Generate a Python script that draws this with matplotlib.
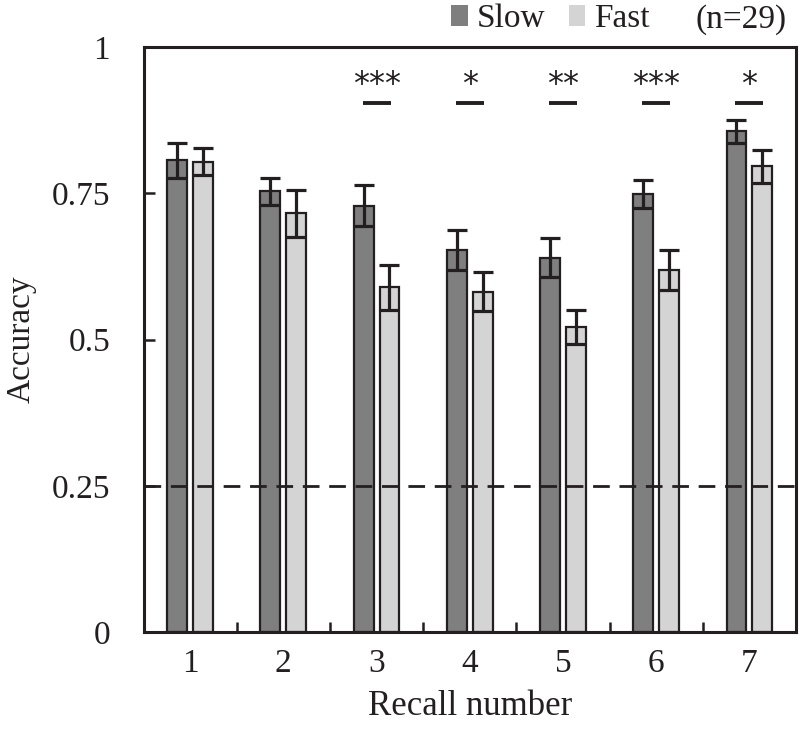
import matplotlib
matplotlib.use("Agg")
import matplotlib.pyplot as plt
from matplotlib.patches import Patch
import numpy as np

recall = [1, 2, 3, 4, 5, 6, 7]
slow_mean = [0.806, 0.753, 0.729, 0.653, 0.640, 0.749, 0.856]
slow_err = [0.030, 0.023, 0.035, 0.034, 0.034, 0.024, 0.020]
fast_mean = [0.804, 0.716, 0.589, 0.582, 0.522, 0.619, 0.796]
fast_err = [0.023, 0.040, 0.038, 0.033, 0.029, 0.034, 0.028]
sig_pos = [3, 4, 5, 6, 7]
sig_txt = ["***", "*", "**", "***", "*"]
chance = 0.25
yticks = [0, 0.25, 0.5, 0.75, 1]
ytick_labels = ["0", "0.25", "0.5", "0.75", "1"]

DARK = "#231f20"
SLOW_C = "#7f7f7f"
FAST_C = "#d4d4d4"

plt.rcParams["font.family"] = ["Liberation Serif", "DejaVu Serif"]

fig = plt.figure(figsize=(8.0, 7.36), dpi=100)
ax = fig.add_axes([143.5 / 800, 1 - 632 / 736, (796 - 143.5) / 800, (632 - 47) / 736])

x = np.array(recall, dtype=float)
w = 0.213
off = 0.139
ekw = dict(ecolor=DARK, elinewidth=2.3, capsize=7, capthick=2.3)
ax.bar(x - off, slow_mean, w, color=SLOW_C, edgecolor=DARK, linewidth=1.6,
       yerr=slow_err, error_kw=ekw, zorder=2)
ax.bar(x + off, fast_mean, w, color=FAST_C, edgecolor=DARK, linewidth=1.6,
       yerr=fast_err, error_kw=ekw, zorder=2)

ax.axhline(chance, color=DARK, linestyle=(0, (6, 3.5)), linewidth=2.0, zorder=3)

for p, t in zip(sig_pos, sig_txt):
    ax.plot([p - 0.15, p + 0.15], [0.905, 0.905], color=DARK, linewidth=2.8,
            solid_capstyle="butt", zorder=3)
    ax.text(p, 0.936, t, ha="center", va="center", fontsize=23,
            family=["DejaVu Sans"], color=DARK)

ax.set_xlim(0.5, 7.5)
ax.set_ylim(0, 1)
ax.set_yticks(yticks)
ax.set_yticklabels(ytick_labels)
ax.set_xticks(recall)
ax.set_xticklabels([str(r) for r in recall])
ax.set_xticks(np.arange(1.5, 7.5, 1.0), minor=True)
ax.tick_params(axis="y", direction="in", length=8, width=1.8, color=DARK,
               labelsize=24, pad=24, labelcolor=DARK)
ax.tick_params(axis="x", which="major", length=0, labelsize=24, pad=12,
               labelcolor=DARK)
ax.tick_params(axis="x", which="minor", direction="in", length=7, width=1.8,
               color=DARK)
for s in ax.spines.values():
    s.set_linewidth(2.2)
    s.set_color(DARK)

ax.set_xlabel("Recall number", fontsize=25, color=DARK, labelpad=8)
ax.set_ylabel("Accuracy", fontsize=24, color=DARK, labelpad=11)

handles = [Patch(facecolor=SLOW_C, edgecolor="none", label="Slow"),
           Patch(facecolor=FAST_C, edgecolor="none", label="Fast")]
fig.legend(handles=handles, loc="center left",
           bbox_to_anchor=(451 / 800, 1 - 19 / 736), ncol=2, frameon=False,
           fontsize=24, handlelength=0.5, handleheight=0.55,
           handletextpad=0.27, columnspacing=0.7, borderpad=0,
           borderaxespad=0, labelcolor=DARK)
fig.text(787 / 800, 1 - 28 / 736, "(n=29)", ha="right", va="baseline",
         fontsize=24, color=DARK)

fig.savefig("out.png", dpi=100)
